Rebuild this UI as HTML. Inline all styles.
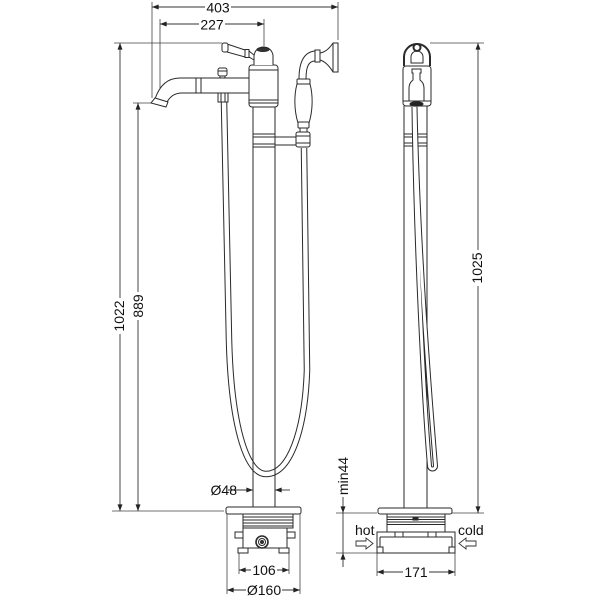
<!DOCTYPE html>
<html><head><meta charset="utf-8"><style>
html,body{margin:0;padding:0;background:#fff;}
svg{display:block}
text{font-family:"Liberation Sans",Arial,sans-serif;font-size:14px;fill:#111}
</style></head><body>
<svg width="600" height="600" viewBox="0 0 600 600" xmlns="http://www.w3.org/2000/svg">
<defs>
<marker id="a" viewBox="0 0 8 6" refX="8" refY="3" markerWidth="7" markerHeight="5" orient="auto-start-reverse" markerUnits="userSpaceOnUse"><path d="M0,0 L8,3 L0,6 Z" fill="#222"/></marker>
</defs>
<rect width="600" height="600" fill="#fff"/>

<!-- extension lines -->
<path fill="none" stroke="#444" stroke-width="0.8" d="M152 2V98 M160 19V88 M264 19V46 M338 2V40 M114 43H222 M133 103H152 M112 511H224 M227 514V594 M300 514V594 M239 553V574 M289 553V574 M430 43H484 M452 513H484 M336 513H377 M336 553H377 M377 553V576 M455 553V576"/>

<!-- dimension lines -->
<g fill="none" stroke="#333" stroke-width="0.9" marker-start="url(#a)" marker-end="url(#a)">
<path d="M152 7H338"/>
<path d="M160 24H264"/>
<path d="M120 43V511"/>
<path d="M138 103V511"/>
<path d="M239 570H289"/>
<path d="M227 590H300"/>
<path d="M478 43V513"/>
<path d="M377 572H455"/>
</g>
<g fill="none" stroke="#333" stroke-width="0.9" marker-end="url(#a)">
<path d="M228 490H253"/>
<path d="M290 490H275"/>
<path d="M343 495V513"/>
<path d="M343 567V553"/>
</g>
<path d="M343 513V553" stroke="#333" stroke-width="0.9"/>

<!-- label backgrounds -->
<g fill="#fff">
<rect x="205" y="0" width="26" height="14"/>
<rect x="199" y="17" width="26" height="14"/>
<rect x="113" y="298" width="12" height="36"/>
<rect x="132" y="292" width="12" height="28"/>
<rect x="471" y="250" width="12" height="36"/>
<rect x="251" y="563" width="26" height="14"/>
<rect x="246" y="583" width="36" height="14"/>
<rect x="403" y="565" width="26" height="14"/>
<rect x="337" y="455" width="12" height="42"/>
</g>

<!-- labels -->
<text x="218" y="12.5" text-anchor="middle">403</text>
<text x="212" y="29.5" text-anchor="middle">227</text>
<text transform="translate(124,316) rotate(-90)" text-anchor="middle">1022</text>
<text transform="translate(143,306) rotate(-90)" text-anchor="middle">889</text>
<text transform="translate(482,268) rotate(-90)" text-anchor="middle">1025</text>
<text transform="translate(348,476) rotate(-90)" text-anchor="middle">min44</text>
<text x="237" y="495" text-anchor="end">Ø48</text>
<text x="264" y="575" text-anchor="middle">106</text>
<text x="264" y="595" text-anchor="middle">Ø160</text>
<text x="416" y="577" text-anchor="middle">171</text>
<text x="355" y="535">hot</text>
<text x="458" y="535">cold</text>

<!-- hot/cold arrows -->
<path d="M356 541H366V538L373 543.5L366 549V546H356Z" fill="#fff" stroke="#333" stroke-width="0.9"/>
<path d="M476 541H466V538L459 543.5L466 549V546H476Z" fill="#fff" stroke="#333" stroke-width="0.9"/>

<!-- FRONT VIEW -->
<!-- hose -->
<path d="M224 102 L229 340 C231 420 245 474 266 474 C290 474 305 430 307 370 L304 148" fill="none" stroke="#2a2a2a" stroke-width="6.5"/>
<path d="M224 102 L229 340 C231 420 245 474 266 474 C290 474 305 430 307 370 L304 148" fill="none" stroke="#fff" stroke-width="4.5"/>

<g fill="#fff" stroke="#2a2a2a" stroke-width="1">
<!-- column -->
<path d="M253 107V507 M275 107V507" fill="none"/>
<path d="M253 134H275 M253 137H275 M253 144H275 M253 147H275" fill="none"/>
<!-- holder bar -->
<path d="M275 137H296 M275 145H296" fill="none"/>
<rect x="296" y="132" width="14" height="15" rx="2"/>
<path d="M296 136H310 M296 143H310" fill="none"/>
<path d="M300 128V132 M307 128V132" fill="none"/>
<!-- handle -->
<path d="M297 84 C294 95 294 110 298 123 H309 C313 110 313 95 310 84 Z"/>
<rect x="297" y="79" width="13" height="5" rx="1"/>
<rect x="298" y="122" width="11" height="6" rx="1"/>
<path d="M299 79 C299 60 305 52 315 51 M306 79 C306 66 309 61 315 61" fill="none"/>
<rect x="315" y="50" width="5" height="12"/>
<path d="M320 53 Q327 52 333 43 H338 V72 H333 Q327 62 320 60 Z"/>
<path d="M333 43V72" fill="none"/>

<!-- spout -->
<path d="M249 78 H180 Q162 78 155 99" fill="none"/>
<path d="M249 93 H182 Q172 93 167 102" fill="none"/>
<path d="M155 98 L168 102 L166 107 L151 103 Z"/>
<path d="M196 78V93 M201 78V93" fill="none"/>
<!-- diverter -->
<rect x="218" y="68" width="9" height="8" rx="2"/>
<path d="M218 71H227 M220 76V78 M225 76V78" fill="none"/>
<rect x="218" y="93" width="10" height="9"/>
<path d="M221 93V102 M225 93V102" fill="none"/>

<!-- body -->
<rect x="249" y="65" width="29" height="42" rx="3"/>
<path d="M249 70H278 M249 100H278 M249 103H278" fill="none"/>
<!-- knob & lever -->
<path d="M254 65 V56 Q255 48 263 47 Q271 47 273 55 V65"/>
<ellipse cx="263" cy="49.5" rx="6" ry="2" fill="#333"/>
<path d="M227 44 L245 50 L245 57 L227 52 Z"/>
<rect x="222" y="43" width="6" height="9" rx="2"/>
<rect x="245" y="49.5" width="4" height="8"/>
<path d="M249 51 L254 55 M249 57 L254 60" fill="none"/>

<!-- base front -->
<rect x="226" y="507" width="75" height="7" rx="2"/>
<rect x="243" y="514" width="50" height="14"/>
<path d="M243 517H293 M243 520H293 M243 523H293 M243 526H293" fill="none"/>
<rect x="243" y="528" width="44" height="20"/>
<rect x="235" y="532" width="8" height="6"/>
<rect x="287" y="532" width="8" height="6"/>
<rect x="238" y="548" width="10" height="5"/>
<rect x="279" y="548" width="10" height="5"/>
<circle cx="262" cy="542" r="6" stroke-width="1.6"/>
<circle cx="262" cy="542" r="3.5"/>
<circle cx="262" cy="542" r="1.5" fill="#333"/>
</g>

<!-- SIDE VIEW -->
<g fill="#fff" stroke="#2a2a2a" stroke-width="1">
<path d="M404 106V508 M427 106V508" fill="none"/>
<path d="M404 134H427 M404 137H427 M404 143H427 M404 146H427" fill="none"/>
</g>
<path d="M414 107 C416 250 424 400 429.5 466 A3 3 0 0 0 435.5 466 C430 400 418 250 415 107" fill="none" stroke="#2a2a2a" stroke-width="5"/>
<path d="M414 107 C416 250 424 400 429.5 466 A3 3 0 0 0 435.5 466 C430 400 418 250 415 107" fill="none" stroke="#fff" stroke-width="3"/>

<g fill="#fff" stroke="#2a2a2a" stroke-width="1">
<!-- ring -->
<path d="M404 66 V57 A13 13 0 0 1 430 57 V66" stroke-width="2"/>
<path d="M411 63 V57 A6 6 0 0 1 423 57 V63 Z"/>
<circle cx="417" cy="47.5" r="3.5" stroke-width="2"/>
<!-- body -->
<rect x="403" y="66" width="28" height="40" rx="3"/>
<path d="M412 69 H421 V73 H420 V80 Q424 83 424 88 V101 H409 V88 Q409 83 413 80 V73 H412 Z"/>
<path d="M403 101H431" fill="none"/>
<ellipse cx="416.5" cy="104" rx="6.5" ry="2.2" fill="#222"/>

<!-- base side -->
<rect x="378" y="508" width="74" height="6" rx="2"/>
<rect x="387" y="514" width="58" height="18"/>
<path d="M387 517H445 M387 519.5H445 M387 522H445 M387 524.5H445" fill="none"/>
<rect x="413" y="518" width="5" height="2" fill="#222"/>
<rect x="377" y="532" width="78" height="21"/>
<path d="M380 537H452 M380 537V549 M452 537V549" fill="none"/>
<rect x="395" y="532" width="8" height="5"/>
<rect x="428" y="532" width="8" height="5"/>
<rect x="377" y="547" width="6" height="6"/>
<rect x="449" y="547" width="6" height="6"/>
</g>
</svg>
</body></html>
